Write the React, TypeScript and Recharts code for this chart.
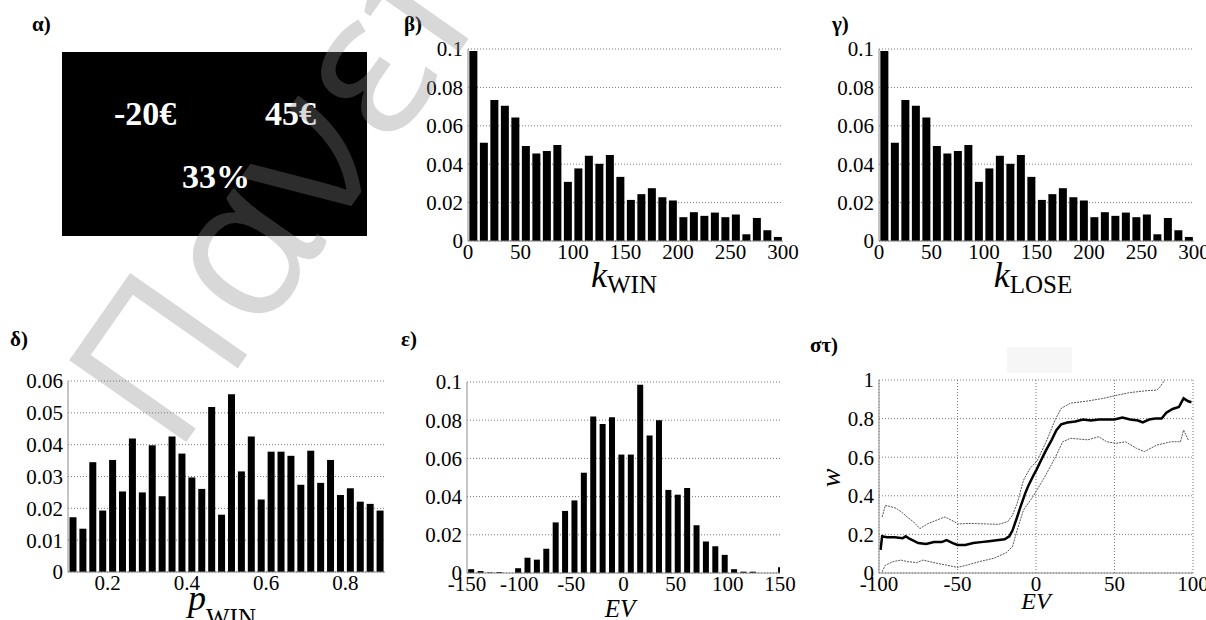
import React from 'react';
import { BarChart, Bar, LineChart, Line, XAxis, YAxis, CartesianGrid } from 'recharts';

// β / γ : histograms of k (bin centres, 10-wide bins)
const kBins = [5, 15, 25, 35, 45, 55, 65, 75, 85, 95, 105, 115, 125, 135, 145, 155, 165, 175, 185, 195, 205, 215, 225, 235, 245, 255, 265, 275, 285, 295];
const kWinValues = [0.099, 0.0512, 0.0735, 0.0704, 0.0643, 0.0495, 0.0456, 0.0469, 0.05, 0.0308, 0.0378, 0.0444, 0.0402, 0.0448, 0.0334, 0.0214, 0.0244, 0.0275, 0.0228, 0.0211, 0.0124, 0.015, 0.0131, 0.0148, 0.0124, 0.0138, 0.0035, 0.012, 0.0056, 0.0021];
const kLoseValues = [0.099, 0.0512, 0.0735, 0.0704, 0.0643, 0.0495, 0.0456, 0.0469, 0.05, 0.0308, 0.0378, 0.0444, 0.0402, 0.0448, 0.0334, 0.0214, 0.0244, 0.0275, 0.0228, 0.0211, 0.0124, 0.015, 0.0131, 0.0148, 0.0124, 0.0138, 0.0035, 0.012, 0.0056, 0.0021];
const kTicks = [0, 50, 100, 150, 200, 250, 300];
const kYTicks = [0, 0.02, 0.04, 0.06, 0.08, 0.1];

// δ : histogram of p_WIN
const pBins = [0.1125, 0.1375, 0.1625, 0.1875, 0.2125, 0.2375, 0.2625, 0.2875, 0.3125, 0.3375, 0.3625, 0.3875, 0.4125, 0.4375, 0.4625, 0.4875, 0.5125, 0.5375, 0.5625, 0.5875, 0.6125, 0.6375, 0.6625, 0.6875, 0.7125, 0.7375, 0.7625, 0.7875, 0.8125, 0.8375, 0.8625, 0.8875];
const pValues = [0.0172, 0.0136, 0.0345, 0.0193, 0.0352, 0.0253, 0.0419, 0.025, 0.0398, 0.0238, 0.0426, 0.0372, 0.0297, 0.0261, 0.0518, 0.018, 0.0558, 0.0316, 0.0426, 0.0228, 0.0378, 0.0378, 0.0365, 0.0274, 0.0381, 0.028, 0.0352, 0.0242, 0.0263, 0.0221, 0.0214, 0.0193];
const pTicks = [0.2, 0.4, 0.6, 0.8];
const pYTicks = [0, 0.01, 0.02, 0.03, 0.04, 0.05, 0.06];

// ε : histogram of EV
const evBins = [-146, -137, -128, -119, -110, -101, -92, -83, -74, -65, -56, -47, -38, -29, -20, -11, -2, 7, 16, 25, 34, 43, 52, 61, 70, 79, 88, 97, 106, 115, 124, 133, 142, 151];
const evValues = [0.002, 0.001, 0.0003, 0.0005, 0, 0.0025, 0.008, 0.007, 0.0127, 0.0265, 0.0325, 0.038, 0.0525, 0.082, 0.078, 0.0815, 0.062, 0.062, 0.0985, 0.072, 0.08, 0.0435, 0.041, 0.0445, 0.025, 0.0165, 0.014, 0.0095, 0.002, 0.0007, 0.0007, 0, 0, 0.003];
const evTicks = [-150, -100, -50, 0, 50, 100, 150];

// στ : w against EV (mean and band)
const meanEv = [-99, -98, -95, -90, -85, -83, -80, -75, -70, -65, -60, -57, -53, -50, -45, -40, -35, -30, -25, -20, -17, -15, -12, -10, -7, -5, -2, 0, 3, 6, 10, 13, 16, 20, 25, 30, 35, 40, 45, 50, 55, 60, 65, 68, 72, 76, 80, 83, 87, 91, 94, 97, 99];
const meanW = [0.12, 0.19, 0.185, 0.185, 0.18, 0.19, 0.175, 0.155, 0.15, 0.16, 0.16, 0.17, 0.155, 0.145, 0.145, 0.155, 0.16, 0.165, 0.17, 0.175, 0.19, 0.22, 0.29, 0.34, 0.41, 0.45, 0.5, 0.53, 0.58, 0.63, 0.69, 0.74, 0.77, 0.78, 0.785, 0.795, 0.79, 0.795, 0.795, 0.795, 0.805, 0.795, 0.79, 0.78, 0.795, 0.8, 0.8, 0.83, 0.85, 0.86, 0.905, 0.89, 0.885];
const upperEv = [-98, -96, -93, -89, -86, -82, -78, -74, -69, -63, -58, -52, -50, -42, -31, -24, -18, -15, -12, -8, -4, 1, 7, 12, 16, 22, 32, 43, 52, 60, 71, 77, 79, 82, 86, 90, 95, 99];
const upperW = [0.29, 0.35, 0.345, 0.335, 0.318, 0.29, 0.265, 0.23, 0.255, 0.275, 0.29, 0.266, 0.254, 0.257, 0.254, 0.252, 0.266, 0.3, 0.36, 0.48, 0.54, 0.585, 0.69, 0.79, 0.853, 0.88, 0.89, 0.905, 0.922, 0.935, 0.945, 0.948, 0.965, 1.0, 1.04, 1.08, 1.1, 1.1];
const lowerEv = [-98, -96, -91, -86, -82, -76, -72, -63, -57, -50, -44, -36, -27, -19, -15, -12, -8, -2, 5, 12, 17, 22, 33, 40, 45, 51, 57, 64, 69, 77, 86, 92, 94, 97];
const lowerW = [0.007, 0.04, 0.059, 0.067, 0.059, 0.054, 0.067, 0.05, 0.041, 0.029, 0.041, 0.059, 0.076, 0.105, 0.136, 0.223, 0.326, 0.395, 0.49, 0.594, 0.68, 0.698, 0.69, 0.706, 0.68, 0.672, 0.68, 0.646, 0.629, 0.663, 0.68, 0.68, 0.741, 0.689];
const wTicks = [-100, -50, 0, 50, 100];
const wYTicks = [0, 0.2, 0.4, 0.6, 0.8, 1];

const FONT = 'Liberation Serif, DejaVu Serif, serif';
const FRAME = '#8c8c8c';
const GRID = '#777';
const tickStyle = { fill: '#000', fontSize: 21, fontFamily: FONT };
// chart margins around the plot area
const M = { top: 16, right: 24, bottom: 0, left: 0 };
const YW = 60;
const XH = 30;

const Histogram = ({ bins, values, xDomain, xTicks, yDomain, yTicks, plotW, plotH, gap }: any) => {
  const data = bins.map((b: number, i: number) => ({ x: b, y: values[i] }));
  return (
    <BarChart
      width={plotW + YW + M.right}
      height={plotH + M.top + XH}
      data={data}
      margin={M}
      barCategoryGap={gap}
      style={{ fontFamily: FONT }}
    >
      <CartesianGrid vertical={false} stroke={GRID} strokeDasharray="1 2" />
      <XAxis
        dataKey="x"
        type="number"
        domain={xDomain}
        ticks={xTicks}
        allowDataOverflow
        interval={0}
        height={XH}
        tickSize={0}
        tickMargin={3}
        tickLine={false}
        axisLine={{ stroke: FRAME }}
        tick={tickStyle}
      />
      <XAxis
        xAxisId="top"
        orientation="top"
        type="number"
        domain={xDomain}
        ticks={xTicks}
        allowDataOverflow
        height={0}
        mirror
        tick={false}
        tickSize={4}
        tickLine={{ stroke: FRAME }}
        axisLine={{ stroke: FRAME }}
      />
      <YAxis
        type="number"
        domain={yDomain}
        ticks={yTicks}
        allowDataOverflow
        interval={0}
        width={YW}
        tickSize={0}
        tickMargin={5}
        tickLine={false}
        axisLine={{ stroke: FRAME }}
        tick={tickStyle}
      />
      <YAxis yAxisId="right" orientation="right" domain={yDomain} width={0} tick={false} tickLine={false} axisLine={{ stroke: FRAME }} />
      <Bar dataKey="y" fill="#000" isAnimationActive={false} />
    </BarChart>
  );
};

const WCurve = ({ plotW, plotH }: any) => {
  const mean = meanEv.map((e, i) => ({ ev: e, w: meanW[i] }));
  const upper = upperEv.map((e, i) => ({ ev: e, w: upperW[i] }));
  const lower = lowerEv.map((e, i) => ({ ev: e, w: lowerW[i] }));
  return (
    <LineChart width={plotW + YW + M.right} height={plotH + M.top + XH} margin={M} style={{ fontFamily: FONT }}>
      <CartesianGrid stroke={GRID} strokeDasharray="1 2" />
      <XAxis
        dataKey="ev"
        type="number"
        domain={[-100, 100]}
        ticks={wTicks}
        allowDataOverflow
        interval={0}
        height={XH}
        tickSize={0}
        tickMargin={3}
        tickLine={false}
        axisLine={{ stroke: FRAME }}
        tick={tickStyle}
      />
      <XAxis xAxisId="top" orientation="top" type="number" domain={[-100, 100]} height={0} tick={false} tickLine={false} axisLine={{ stroke: FRAME }} />
      <YAxis
        type="number"
        domain={[0, 1]}
        ticks={wYTicks}
        allowDataOverflow
        interval={0}
        width={YW}
        tickSize={0}
        tickMargin={5}
        tickLine={false}
        axisLine={{ stroke: FRAME }}
        tick={tickStyle}
      />
      <YAxis yAxisId="right" orientation="right" domain={[0, 1]} width={0} tick={false} tickLine={false} axisLine={{ stroke: FRAME }} />
      <Line data={upper} dataKey="w" stroke="#555" strokeWidth={1} strokeDasharray="2 1" dot={false} isAnimationActive={false} />
      <Line data={lower} dataKey="w" stroke="#555" strokeWidth={1} strokeDasharray="2 1" dot={false} isAnimationActive={false} />
      <Line data={mean} dataKey="w" stroke="#000" strokeWidth={2.5} dot={false} isAnimationActive={false} />
    </LineChart>
  );
};

// place a chart so that its plot area starts at (plotLeft, plotTop)
const at = (plotLeft: number, plotTop: number): React.CSSProperties => ({
  position: 'absolute',
  left: plotLeft - YW,
  top: plotTop - M.top,
});

export default function App() {
  return (
    <div
      style={{
        position: 'absolute',
        left: 0,
        top: 0,
        width: 1206,
        height: 620,
        background: '#fff',
        overflow: 'hidden',
        fontFamily: FONT,
      }}
    >
      {/* α) stimulus */}
      <div style={{ position: 'absolute', left: 62, top: 52, width: 305, height: 184, background: '#000' }} />

      <div style={at(468, 49)}>
        <Histogram bins={kBins} values={kWinValues} xDomain={[0, 300]} xTicks={kTicks} yDomain={[0, 0.1]} yTicks={kYTicks} plotW={315} plotH={192} gap="13%" />
      </div>
      <div style={at(879, 49)}>
        <Histogram bins={kBins} values={kLoseValues} xDomain={[0, 300]} xTicks={kTicks} yDomain={[0, 0.1]} yTicks={kYTicks} plotW={315} plotH={192} gap="13%" />
      </div>
      <div style={at(68, 381)}>
        <Histogram bins={pBins} values={pValues} xDomain={[0.1, 0.9]} xTicks={pTicks} yDomain={[0, 0.06]} yTicks={pYTicks} plotW={317} plotH={191} gap="15%" />
      </div>
      <div style={at(467, 382)}>
        <Histogram bins={evBins} values={evValues} xDomain={[-150, 150]} xTicks={evTicks} yDomain={[0, 0.1]} yTicks={kYTicks} plotW={313} plotH={191} gap="18%" />
      </div>
      <div style={{ position: 'absolute', left: 1007, top: 347, width: 65, height: 26, background: '#f6f6f6' }} />
      <div style={at(879, 380)}>
        <WCurve plotW={314} plotH={193} />
      </div>

      <svg width={1206} height={620} style={{ position: 'absolute', left: 0, top: 0, pointerEvents: 'none', fontFamily: FONT }}>
        <g fill="#fff" fontWeight="bold" fontSize={34}>
          <text x={114} y={125}>-20€</text>
          <text x={265} y={125}>45€</text>
          <text x={182} y={188}>33%</text>
        </g>
        <g fontWeight="bold" fontSize={21} fill="#000">
          <text x={32} y={31}>α)</text>
          <text x={404} y={31}>β)</text>
          <text x={832} y={31}>γ)</text>
          <text x={10} y={346}>δ)</text>
          <text x={401} y={346}>ε)</text>
          <text x={810} y={352}>στ)</text>
        </g>
        <g fill="#000" textAnchor="middle">
          <text x={624} y={287} fontSize={36}>
            <tspan fontStyle="italic">k</tspan>
            <tspan fontSize={25} dy={6}>WIN</tspan>
          </text>
          <text x={1033} y={287} fontSize={36}>
            <tspan fontStyle="italic">k</tspan>
            <tspan fontSize={25} dy={6}>LOSE</tspan>
          </text>
          <text x={222} y={610} fontSize={36}>
            <tspan fontStyle="italic">p</tspan>
            <tspan fontSize={25} dy={16}>WIN</tspan>
          </text>
          <text x={620} y={617} fontSize={25} fontStyle="italic">EV</text>
          <text x={1036} y={609} fontSize={24} fontStyle="italic">EV</text>
          <text transform="translate(840,478) rotate(-90)" fontSize={28} fontStyle="italic">w</text>
        </g>
        <text
          transform="translate(175,458) rotate(-55)"
          fontFamily="Open Sans, DejaVu Sans, sans-serif"
          fontSize={200}
          fill="#888"
          fillOpacity={0.33}
        >
          Πανεπιστήμιο
        </text>
      </svg>
    </div>
  );
}
